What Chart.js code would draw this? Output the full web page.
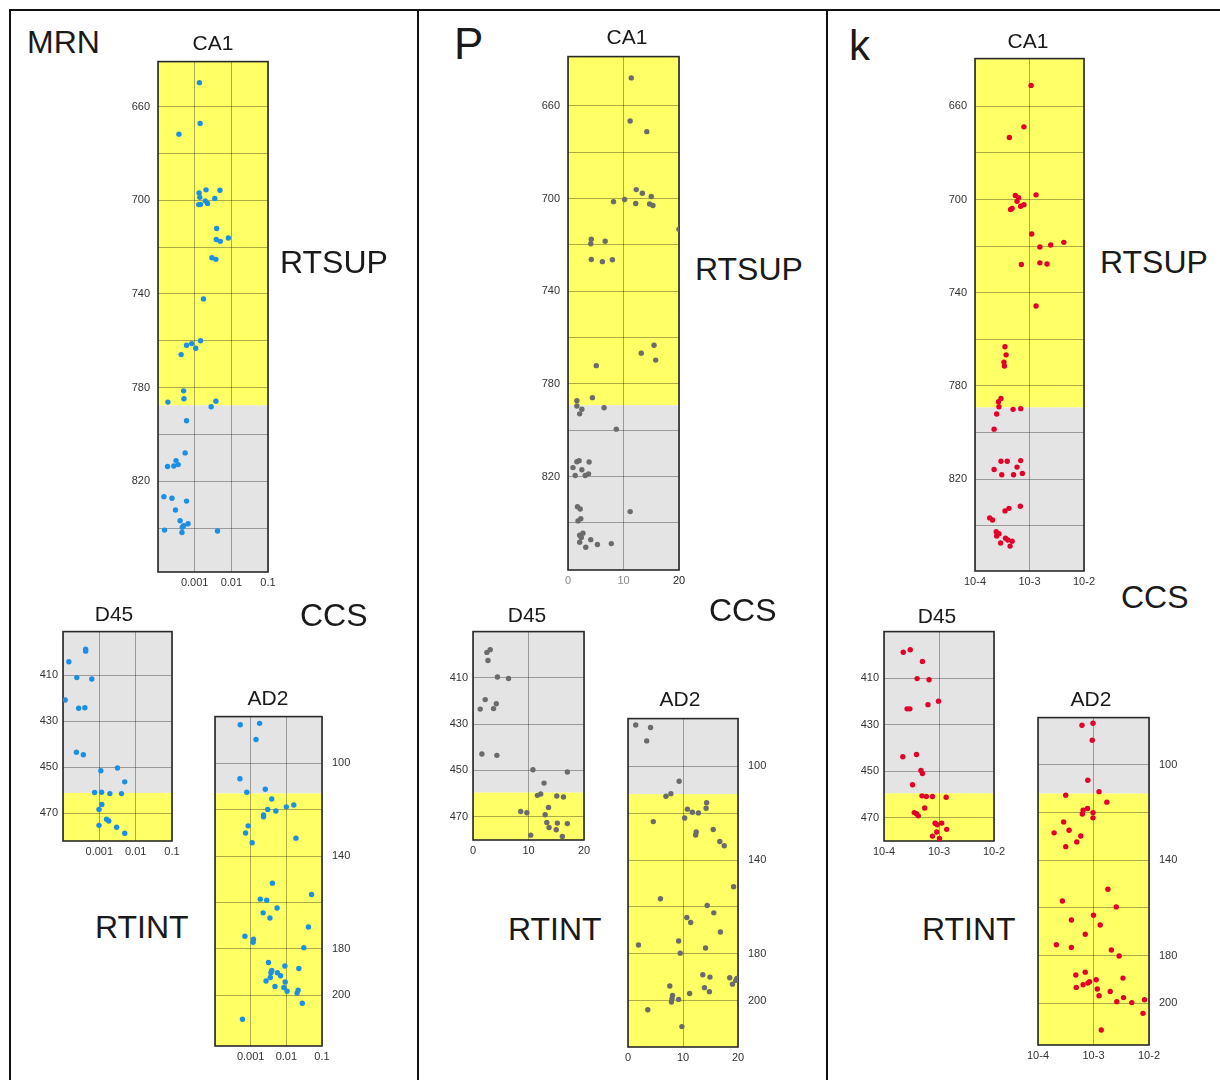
<!DOCTYPE html>
<html>
<head>
<meta charset="utf-8">
<script src="https://cdn.jsdelivr.net/npm/chart.js@4/dist/chart.umd.min.js"></script>
<style>
  body { margin: 0; background: #fff; width: 1220px; height: 1080px; position: relative; overflow: hidden;
         font-family: "Liberation Sans", Arial, sans-serif; color: #1a1a1a; }
  canvas { position: absolute; }
  .txt { position: absolute; white-space: nowrap; line-height: 1; }
  .rule { position: absolute; background: #111; }
</style>
</head>
<body>
<script>
//
// Values (x = property value, depth = position along the core)
//

// MRN panel (log axis)
const mrnCa1X = [1.35e-3, 1.41e-3, 3.72e-4, 1.32e-3, 2.04e-3, 4.9e-3, 1.38e-3, 3.55e-3, 1.95e-3, 2.24e-3, 1.29e-3, 1.45e-3,
  3.98e-3, 8.3e-3, 3.89e-3, 5.0e-3, 2.95e-3, 3.8e-3, 1.74e-3, 1.45e-3, 8.3e-4, 6.0e-4, 1.07e-3, 4.27e-4,
  5.0e-4, 5.1e-4, 1.86e-4, 3.8e-3, 2.82e-3, 6.0e-4, 5.5e-4, 3.1e-4, 3.55e-4, 2.7e-4, 1.82e-4,
  1.45e-4, 2.4e-4, 6.0e-4, 3.0e-4, 4.0e-4, 6.6e-4, 5.0e-4, 4.6e-4, 4.5e-4, 1.51e-4, 4.2e-3];
const mrnCa1Depth = [649.7, 667.1, 671.7, 696.8, 695.5, 695.7, 698.7, 699.2, 700.2, 701.3, 701.8, 701.7,
  712, 716.1, 716.7, 717.5, 724.5, 725.2, 742.1, 760, 761.2, 761.9, 763.2, 765.9,
  781.4, 784.8, 786.2, 785.8, 788.2, 794.2, 807.9, 811.2, 812.9, 813.5, 813.7,
  826.6, 827.3, 828.5, 832.3, 836.9, 838.2, 839, 839.7, 841.9, 840.9, 841.3];

const mrnD45X = [4.2e-4, 4.2e-4, 1.45e-4, 2.4e-4, 6.2e-4, 1.15e-4, 2.7e-4, 4.0e-4, 2.34e-4, 3.63e-4,
  3.16e-3, 1.1e-3, 5.0e-3, 7.4e-4, 1.15e-3, 1.95e-3, 4.07e-3, 1.17e-3, 9.8e-4, 1.58e-3, 1.82e-3, 9.8e-4, 3.0e-3, 5.0e-3];
const mrnD45Depth = [398.7, 399.5, 404.1, 411, 411.6, 420.7, 424.3, 424.1, 443.4, 444.5,
  450.3, 451.5, 456.3, 460.9, 460.8, 461.4, 461.4, 466.1, 468.3, 472.5, 473.3, 475.2, 476, 478.6];

const mrnAd2X = [5.1e-4, 1.78e-3, 1.41e-3, 5.0e-4, 2.57e-3, 7.8e-4, 3.9e-3, 1.0e-2, 1.62e-2, 3.0e-3, 5.1e-3, 2.3e-3,
  2.3e-3, 8.5e-4, 7.2e-4, 1.86e-2, 1.1e-3, 4.07e-3, 5.1e-2, 1.86e-3, 2.82e-3, 5.5e-3, 2.24e-3, 3.47e-3,
  4.17e-2, 6.9e-4, 1.2e-3, 1.17e-3, 3.1e-2, 3.16e-3, 9.1e-3, 2.24e-2, 3.9e-3, 3.7e-3, 5.6e-3, 6.9e-3,
  3.55e-3, 2.7e-3, 9.3e-3, 4.8e-3, 8.5e-3, 1.05e-2, 2.14e-2, 2.0e-2, 2.8e-2, 5.9e-4];
const mrnAd2Depth = [83.4, 82.8, 89.8, 106.7, 111.2, 112.5, 115.4, 118.8, 118, 119.9, 120.6, 122.3,
  123.1, 127, 130.1, 132.3, 134.3, 151.7, 156.6, 158.6, 159.1, 162.4, 164.5, 166.7,
  170.6, 174.6, 175.9, 177.2, 179.5, 185.9, 187.4, 188.5, 189.3, 190.3, 190.3, 191.6,
  192.4, 193.9, 194.3, 196.2, 196.7, 198.3, 197.8, 199.1, 203.5, 210.4];

// P panel (linear axis 0-20)
const pCa1X = [11.4, 11.2, 14.2, 12.3, 13.4, 15.0, 8.2, 10.2, 12.2, 14.7, 15.3, 20.0, 4.2, 4.1, 6.7, 4.2, 6.2, 8.0,
  15.5, 13.2, 15.8, 5.1, 4.4, 1.6, 1.6, 2.5, 2.1, 6.5, 8.7, 2.0, 1.6, 3.8, 0.9, 2.5, 1.3, 3.1, 3.7,
  1.7, 2.2, 11.2, 2.3, 1.8, 2.7, 2.1, 2.4, 2.1, 4.1, 3.2, 5.3, 7.8];
const pCa1Depth = [647.9, 666.5, 671.1, 696.1, 697.7, 699.1, 701.3, 700.4, 702.1, 702.3, 703, 713.2, 717.5, 719.5, 718.4, 726.3, 727.2, 726.4,
  763.3, 766.7, 769.7, 772.1, 785.9, 787.2, 789.5, 790.9, 792.9, 790.3, 799.5, 813.1, 813.6, 813.7, 816.1, 817, 819.5, 819.5, 818.8,
  833, 834, 835.1, 838.2, 839.1, 844.4, 845.3, 846.3, 848.3, 847.2, 850.5, 849.3, 848.9];

const pD45X = [2.5, 3.1, 2.7, 4.4, 6.4, 2.2, 4.2, 1.3, 3.7, 1.6, 4.3, 10.8, 17.0, 12.8, 11.6, 12.2, 15.1, 16.3,
  13.6, 8.6, 9.7, 13.0, 13.3, 15.2, 17.0, 13.7, 15.0, 10.4, 16.1];
const pD45Depth = [399, 397.8, 402.5, 409.6, 410.3, 419.4, 421.2, 423.5, 423.3, 442.9, 443.5, 449.7, 450.7, 455.5, 460.8, 460.2, 461.1, 461.5,
  466, 467.8, 468.3, 469.2, 472.5, 472.8, 473, 474.7, 475.7, 478, 478.6];

const pAd2X = [1.4, 4.1, 3.4, 9.3, 6.9, 7.8, 14.3, 14.2, 10.8, 11.7, 12.8, 10.3, 4.6, 15.5, 12.4, 12.3, 16.7, 17.5,
  19.2, 5.9, 14.4, 15.6, 10.7, 11.4, 16.8, 1.9, 9.2, 14.1, 9.5, 13.6, 14.9, 18.5, 19.8, 19.6, 19.0,
  7.6, 13.9, 14.8, 11.2, 8.1, 8.0, 7.9, 9.2, 3.6, 9.8];
const pAd2Depth = [82.4, 83.5, 89.2, 106.4, 112.8, 111.7, 115.6, 117.9, 118.3, 119.6, 119.9, 122.1, 123.6, 127, 128, 129.3, 132.1, 133.9,
  151.4, 156.5, 159.4, 162.5, 164.5, 166.6, 170.7, 176.2, 174.5, 177.5, 179.7, 188.9, 189.9, 190.2, 190.5, 191.3, 192.9,
  193.7, 194.4, 196.1, 196.9, 197.7, 199.1, 200.5, 199.4, 203.8, 211];

// k panel (log axis 10-4 to 10-2)
const kCa1X = [1.07e-3, 7.9e-4, 4.27e-4, 1.32e-3, 5.5e-4, 6.3e-4, 5.9e-4, 7.9e-4, 6.9e-4, 4.8e-4, 4.5e-4,
  1.1e-3, 1.55e-3, 2.45e-3, 4.27e-3, 7.1e-4, 1.55e-3, 2.1e-3, 1.32e-3, 3.55e-4, 3.72e-4, 3.4e-4, 3.47e-4,
  3.0e-4, 2.7e-4, 2.75e-4, 5.0e-4, 6.9e-4, 2.5e-4, 2.24e-4, 3.0e-4, 3.9e-4, 6.9e-4, 5.9e-4, 2.24e-4,
  3.1e-4, 5.1e-4, 7.4e-4, 6.8e-4, 4.2e-4, 3.55e-4, 1.86e-4, 2.1e-4, 2.45e-4, 2.75e-4, 2.5e-4,
  3.63e-4, 4.0e-4, 4.8e-4, 2.95e-4, 4.4e-4];
const kCa1Depth = [651, 668.8, 673.4, 698, 698.3, 699.2, 700.8, 702.2, 702.9, 703.8, 704.3,
  714.8, 720.4, 719.5, 718.4, 727.9, 727.2, 727.7, 745.7, 763.2, 766.7, 769.8, 771.5,
  785.4, 786.8, 789, 790.1, 789.8, 792.1, 798.6, 812.4, 812.4, 812.1, 814.9, 815.9,
  818.2, 818.2, 817.6, 831.7, 832.6, 833.7, 836.7, 837.6, 842.6, 843.5, 844.5,
  845.4, 846.2, 846.7, 847.5, 848.8];

const kD45X = [2.24e-4, 3.0e-4, 5.0e-4, 4.0e-4, 6.6e-4, 9.8e-4, 6.3e-4, 2.63e-4, 2.95e-4, 3.9e-4, 2.2e-4,
  4.7e-4, 5.0e-4, 3.3e-4, 4.9e-4, 5.9e-4, 7.6e-4, 1.35e-3, 5.5e-4, 3.55e-4, 3.9e-4, 4.2e-4,
  8.5e-4, 9.3e-4, 1.12e-3, 1.38e-3, 9.1e-4, 7.6e-4, 1.02e-3];
const kD45Depth = [398.9, 397.8, 402.8, 410.2, 410.7, 419.9, 421.4, 423.2, 423.2, 442.8, 443.8,
  449.7, 451, 455.8, 460.6, 460.9, 460.9, 461.2, 465.8, 467.8, 468.3, 469.2,
  472.4, 473, 472.3, 475, 476.1, 477.9, 478.9];

const kAd2X = [6.2e-4, 9.8e-4, 9.5e-4, 7.9e-4, 1.26e-3, 3.16e-4, 1.74e-3, 7.8e-4, 6.5e-4, 6.3e-4, 9.8e-4, 9.8e-4,
  2.9e-4, 3.63e-4, 1.95e-4, 5.9e-4, 5.0e-4, 3.16e-4, 1.82e-3, 2.75e-4, 2.57e-3, 1.0e-3, 4.0e-4, 1.32e-3,
  7.1e-4, 2.14e-4, 4.0e-4, 2.1e-3, 2.9e-3, 4.8e-4, 7.1e-4, 3.4e-3, 1.12e-3, 8.5e-4, 7.9e-4, 6.5e-4,
  4.9e-4, 1.17e-3, 2.0e-3, 1.26e-3, 3.47e-3, 2.63e-3, 4.9e-3, 8.3e-3, 7.8e-3, 1.38e-3];
const kAd2Depth = [83.3, 82.5, 89.6, 106.4, 111.2, 112.7, 115.6, 118.3, 119, 120.6, 120, 122.2,
  123.9, 127.4, 128.5, 129.8, 132.3, 134.3, 152.2, 157.1, 159.6, 163.1, 165.1, 167.2,
  171.1, 175.5, 176.6, 177.7, 180.2, 188.2, 187, 189.5, 190.2, 191, 191.6, 192.3,
  193.4, 194.1, 195.1, 196.9, 197.7, 199.4, 199.8, 198.6, 204.3, 211.3];

// Tick values and labels
const logTicksMRN = [1e-4, 1e-3, 1e-2, 1e-1];
const logLabelsMRN = ['', '0.001', '0.01', '0.1'];
const logTicksK = [1e-4, 1e-3, 1e-2];
const logLabelsK = ['10-4', '10-3', '10-2'];
const linTicksP = [0, 10, 20];
const linLabelsP = ['0', '10', '20'];

const ca1Grid = [660, 680, 700, 720, 740, 760, 780, 800, 820, 840];
const ca1Labels = [660, 700, 740, 780, 820];
const d45Grid = [410, 430, 450, 470];
const d45Labels = [410, 430, 450, 470];
const ad2Grid = [100, 120, 140, 160, 180, 200];
const ad2Labels = [100, 140, 180, 200];

const BLUE = '#1b8fe3', GREY_DOT = '#6b6b6b', RED = '#e3002b';
const YELLOW = '#ffff66', GREY = '#e4e4e4';
const FONT = '"Liberation Sans", Arial, sans-serif';

// Background zones + plot frame
const zonePlugin = {
  id: 'zones',
  beforeDraw(chart, args, o) {
    const { ctx, chartArea: a } = chart;
    const ys = chart.scales.y.getPixelForValue(o.split);
    ctx.save();
    ctx.fillStyle = o.upper;
    ctx.fillRect(a.left, a.top, a.width, ys - a.top);
    ctx.fillStyle = o.lower;
    ctx.fillRect(a.left, ys, a.width, a.bottom - ys);
    ctx.restore();
  },
  beforeDatasetsDraw(chart) {
    const { ctx, chartArea: a } = chart;
    ctx.save();
    ctx.strokeStyle = '#2a2a2a';
    ctx.lineWidth = 1.6;
    ctx.strokeRect(a.left, a.top, a.width, a.height);
    ctx.restore();
  }
};

function makeChart(c) {
  const [L, T, R, B] = c.area;
  const left = c.yPos === 'left';
  const padT = 10, padB = 22, axisW = 46, sidePad = 16;
  const cv = document.createElement('canvas');
  cv.width = (R - L) + axisW + sidePad;
  cv.height = (B - T) + padT + padB;
  document.body.appendChild(cv);

  const chart = new Chart(cv, {
    type: 'scatter',
    data: {
      datasets: [{
        data: c.x.map((v, i) => ({ x: v, y: c.y[i] })),
        backgroundColor: c.color,
        borderWidth: 0,
        pointRadius: 2.7,
        pointHoverRadius: 2.7
      }]
    },
    options: {
      responsive: false,
      maintainAspectRatio: false,
      animation: false,
      devicePixelRatio: 1,
      layout: { padding: { top: padT, bottom: 0, left: left ? 0 : sidePad, right: left ? sidePad : 0 } },
      plugins: {
        legend: { display: false },
        tooltip: { enabled: false },
        zones: { split: c.split, upper: c.upper, lower: c.lower }
      },
      scales: {
        x: {
          type: c.xType, min: c.xMin, max: c.xMax,
          afterBuildTicks: s => { s.ticks = c.xTicks.map(v => ({ value: v })); },
          afterFit: s => { s.height = padB; },
          grid: { color: 'rgba(0,0,0,0.32)', lineWidth: 1, drawTicks: false },
          border: { display: false },
          ticks: {
            autoSkip: false, maxRotation: 0, padding: 4,
            font: { family: FONT, size: 11 },
            color: c.xColor || '#333',
            callback: (v, i) => c.xLabels[i]
          }
        },
        y: {
          type: 'linear', position: c.yPos, reverse: true, min: c.yMin, max: c.yMax,
          afterBuildTicks: s => { s.ticks = c.yGrid.map(v => ({ value: v })); },
          afterFit: s => { s.width = axisW; },
          grid: { color: 'rgba(0,0,0,0.32)', lineWidth: 1, drawTicks: false },
          border: { display: false },
          ticks: {
            autoSkip: false, padding: c.yPad,
            font: { family: FONT, size: 11 },
            color: '#333',
            callback: v => c.yLabels.includes(v) ? String(v) : ''
          }
        }
      }
    },
    plugins: [zonePlugin]
  });

  // grow the canvas if the plot area came out smaller than in the figure
  let a = chart.chartArea;
  const dw = Math.round((R - L) - (a.right - a.left));
  const dh = Math.round((B - T) - (a.bottom - a.top));
  if (dw || dh) {
    chart.resize(cv.width + dw, cv.height + dh);
    a = chart.chartArea;
  }
  // pin the plot area to where it sits in the figure
  cv.style.left = (L - a.left) + 'px';
  cv.style.top = (T - a.top) + 'px';
  return chart;
}

function text(str, x, capMid, size, center) {
  const d = document.createElement('div');
  d.className = 'txt';
  d.textContent = str;
  d.style.fontSize = size + 'px';
  d.style.left = x + 'px';
  d.style.top = (capMid - size * 0.5) + 'px';
  if (center) d.style.transform = 'translateX(-50%)';
  document.body.appendChild(d);
}

function rule(x, y, w, h) {
  const d = document.createElement('div');
  d.className = 'rule';
  Object.assign(d.style, { left: x + 'px', top: y + 'px', width: w + 'px', height: h + 'px' });
  document.body.appendChild(d);
}

// Panel frame
rule(9, 9, 1211, 2);
rule(9, 9, 2, 1071);
rule(417, 9, 2, 1071);
rule(826, 9, 2, 1071);

const mrnLog = { xType: 'logarithmic', xMin: 1e-4, xMax: 0.1, xTicks: logTicksMRN, xLabels: logLabelsMRN };
const kLog = { xType: 'logarithmic', xMin: 1e-4, xMax: 1e-2, xTicks: logTicksK, xLabels: logLabelsK };
const pLin = { xType: 'linear', xMin: 0, xMax: 20, xTicks: linTicksP, xLabels: linLabelsP };
const ca1Axis = { yGrid: ca1Grid, yLabels: ca1Labels, yPos: 'left', yPad: 8, upper: YELLOW, lower: GREY };
const d45Axis = { yGrid: d45Grid, yLabels: d45Labels, yPos: 'left', yPad: 5, upper: GREY, lower: YELLOW };
const ad2Axis = { yGrid: ad2Grid, yLabels: ad2Labels, yPos: 'right', yPad: 10, upper: GREY, lower: YELLOW };

const plots = [
  { ...mrnLog, ...ca1Axis, x: mrnCa1X, y: mrnCa1Depth, color: BLUE, area: [158, 62, 268, 572], yMin: 640.7, yMax: 858.8, split: 787.6 },
  { ...mrnLog, ...d45Axis, x: mrnD45X, y: mrnD45Depth, color: BLUE, area: [63, 632, 172, 841], yMin: 391, yMax: 482, split: 461.1 },
  { ...mrnLog, ...ad2Axis, x: mrnAd2X, y: mrnAd2Depth, color: BLUE, area: [215, 717, 322, 1046], yMin: 79.9, yMax: 221.9, split: 113 },
  { ...pLin, ...ca1Axis, x: pCa1X, y: pCa1Depth, color: GREY_DOT, area: [568, 57, 679, 570], yMin: 638.7, yMax: 860.3, split: 789.2,
    xColor: ctx => ctx.tick.value < 20 ? '#8a8a8a' : '#222' },
  { ...pLin, ...d45Axis, x: pD45X, y: pD45Depth, color: GREY_DOT, area: [473, 632, 584, 840], yMin: 390, yMax: 480.1, split: 459.6 },
  { ...pLin, ...ad2Axis, x: pAd2X, y: pAd2Depth, color: GREY_DOT, area: [628, 719, 738, 1047], yMin: 79.7, yMax: 219.7, split: 111.9 },
  { ...kLog, ...ca1Axis, x: kCa1X, y: kCa1Depth, color: RED, area: [975, 59, 1084, 571], yMin: 639.5, yMax: 859.5, split: 789.3 },
  { ...kLog, ...d45Axis, x: kD45X, y: kD45Depth, color: RED, area: [884, 632, 994, 841], yMin: 390, yMax: 480, split: 459.5 },
  { ...kLog, ...ad2Axis, x: kAd2X, y: kAd2Depth, color: RED, area: [1038, 718, 1149, 1045], yMin: 80.1, yMax: 217.6, split: 112 }
];
plots.forEach(makeChart);

// Panel letters
text('MRN', 27, 42, 32);
text('P', 454, 44, 44);
text('k', 849, 46, 42);

// Plot titles
text('CA1', 213, 42, 21, true);
text('CA1', 627, 36, 21, true);
text('CA1', 1028, 40, 21, true);
text('D45', 114, 613, 21, true);
text('D45', 527, 614, 21, true);
text('D45', 937, 615, 21, true);
text('AD2', 268, 697, 21, true);
text('AD2', 680, 698, 21, true);
text('AD2', 1091, 698, 21, true);

// Zone labels
text('RTSUP', 280, 262, 32);
text('CCS', 300, 615, 32);
text('RTINT', 95, 927, 32);
text('RTSUP', 695, 269, 32);
text('CCS', 709, 610, 32);
text('RTINT', 508, 929, 32);
text('RTSUP', 1100, 262, 32);
text('CCS', 1121, 597, 32);
text('RTINT', 922, 929, 32);
</script>
</body>
</html>
